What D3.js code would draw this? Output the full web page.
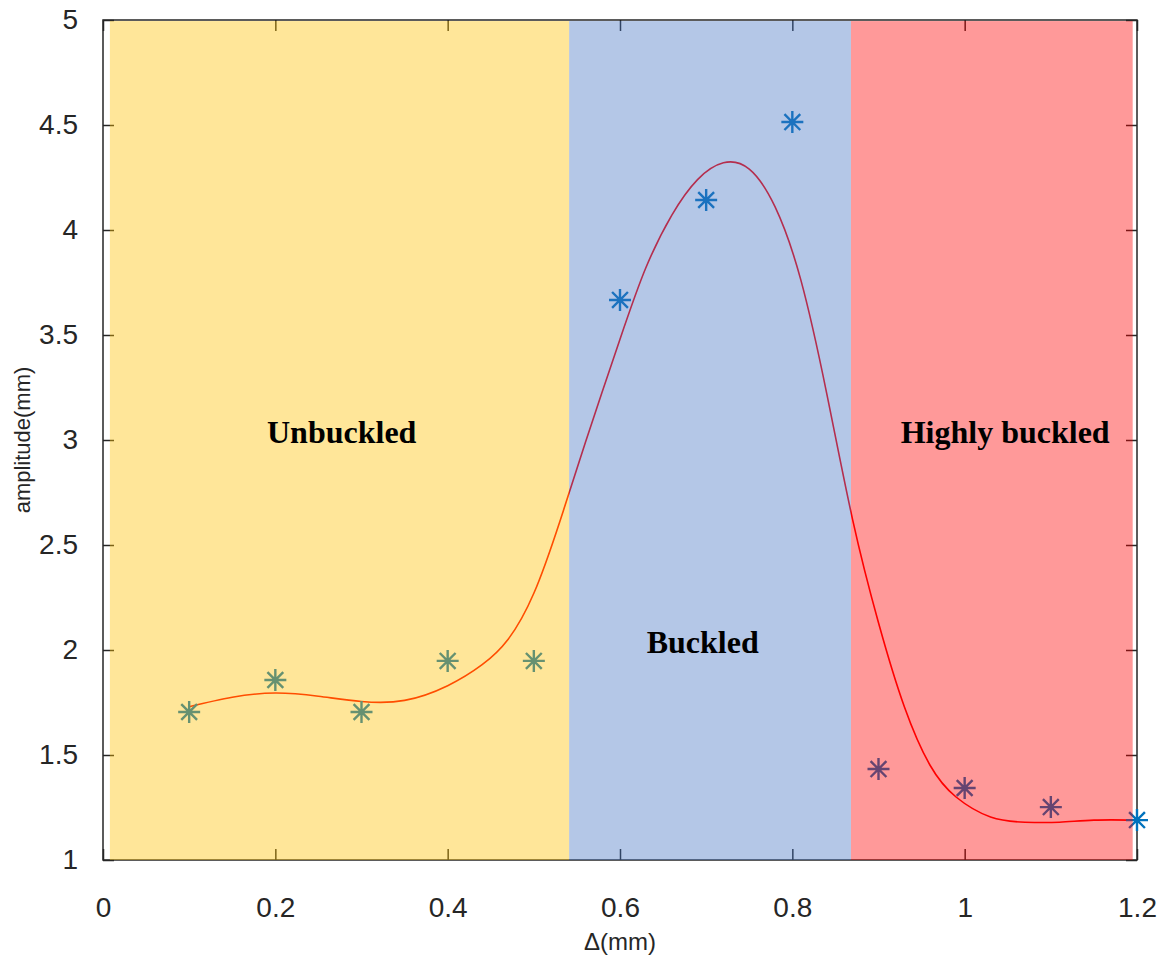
<!DOCTYPE html>
<html>
<head>
<meta charset="utf-8">
<script src="https://cdn.jsdelivr.net/npm/d3@7"></script>
<style>
  body { margin: 0; background: #fff; }
</style>
</head>
<body>
<div id="chart"></div>
<script>
// measured points (asterisks)
var xPts = [0.1, 0.2, 0.3, 0.4, 0.5, 0.6, 0.7, 0.8, 0.9, 1.0, 1.1, 1.2];
var yPts = [1.705, 1.857, 1.705, 1.948, 1.948, 3.667, 4.143, 4.514, 1.433, 1.343, 1.252, 1.19];

// fitted curve
var xFit = [0.1, 0.15, 0.2, 0.25, 0.3, 0.35, 0.4, 0.44, 0.47, 0.5, 0.53, 0.56, 0.6, 0.63, 0.66, 0.69, 0.72, 0.75, 0.78, 0.81, 0.84, 0.87, 0.9, 0.93, 0.96, 0.99, 1.03, 1.07, 1.11, 1.15, 1.2];
var yFit = [1.73, 1.775, 1.795, 1.78, 1.755, 1.76, 1.83, 1.93, 2.05, 2.27, 2.61, 2.99, 3.48, 3.82, 4.07, 4.24, 4.32, 4.29, 4.11, 3.76, 3.22, 2.62, 2.13, 1.73, 1.45, 1.30, 1.205, 1.18, 1.18, 1.19, 1.19];

// shaded regions
var regionStart = [0.008, 0.541, 0.868];
var regionEnd = [0.541, 0.868, 1.195];
var regionColor = ["#FFC000", "#4472C4", "#FF0000"];
var regionName = ["Unbuckled", "Buckled", "Highly buckled"];
var labelX = [0.277, 0.696, 1.047];
var labelY = [3.04, 2.04, 3.04];

var xTicks = [0, 0.2, 0.4, 0.6, 0.8, 1, 1.2];
var yTicks = [1, 1.5, 2, 2.5, 3, 3.5, 4, 4.5, 5];

var W = 1171, H = 955;
var margin = {top: 20, right: 34, bottom: 95, left: 103},
    width = W - margin.left - margin.right,
    height = H - margin.top - margin.bottom;

var svg = d3.select("#chart").append("svg")
    .attr("width", W).attr("height", H)
    .append("g")
    .attr("transform", "translate(" + margin.left + "," + margin.top + ")");

var x = d3.scaleLinear().domain([0, 1.2]).range([0, width]);
var y = d3.scaleLinear().domain([1, 5]).range([height, 0]);

var axisColor = "#262626";
var tickFont = "'Liberation Sans', Arial, sans-serif";

// frame box
svg.append("rect")
    .attr("x", 0).attr("y", 0)
    .attr("width", width).attr("height", height)
    .attr("fill", "none")
    .attr("stroke", axisColor)
    .attr("stroke-width", 1.5);

// axes with inward ticks
var gx = svg.append("g")
    .attr("transform", "translate(0," + height + ")")
    .call(d3.axisBottom(x).tickValues(xTicks).tickSize(-11).tickPadding(37).tickFormat(d3.format("~g")));
var gxTop = svg.append("g")
    .call(d3.axisTop(x).tickValues(xTicks).tickSize(-11).tickFormat(""));
var gy = svg.append("g")
    .call(d3.axisLeft(y).tickValues(yTicks).tickSize(-11).tickPadding(25).tickFormat(d3.format("~g")));
var gyRight = svg.append("g")
    .attr("transform", "translate(" + width + ",0)")
    .call(d3.axisRight(y).tickValues(yTicks).tickSize(-11).tickFormat(""));

[gx, gxTop, gy, gyRight].forEach(function(g) {
    g.select(".domain").remove();
    g.selectAll("line").attr("stroke", axisColor).attr("stroke-width", 1.5);
    g.selectAll("text")
        .attr("fill", axisColor)
        .style("font-family", tickFont)
        .style("font-size", "28px");
});

// fitted curve
var fitData = xFit.map(function(d, i) { return [d, yFit[i]]; });
var line = d3.line()
    .x(function(d) { return x(d[0]); })
    .y(function(d) { return y(d[1]); })
    .curve(d3.curveNatural);

svg.append("path")
    .datum(fitData)
    .attr("d", line)
    .attr("fill", "none")
    .attr("stroke", "#FF0000")
    .attr("stroke-width", 1.6);

// asterisk markers
var r = 11;
var star = "M" + (-r) + ",0L" + r + ",0M0," + (-r) + "L0," + r +
    "M" + (-r * 0.72) + "," + (-r * 0.72) + "L" + (r * 0.72) + "," + (r * 0.72) +
    "M" + (-r * 0.72) + "," + (r * 0.72) + "L" + (r * 0.72) + "," + (-r * 0.72);

svg.selectAll(".pt")
    .data(xPts)
    .enter()
    .append("path")
    .attr("class", "pt")
    .attr("transform", function(d, i) { return "translate(" + x(d) + "," + y(yPts[i]) + ")"; })
    .attr("d", star)
    .attr("fill", "none")
    .attr("stroke", "#0072BD")
    .attr("stroke-width", 2.4);

// translucent regions drawn over the data
svg.selectAll(".region")
    .data(regionStart)
    .enter()
    .append("rect")
    .attr("class", "region")
    .attr("x", function(d) { return x(d); })
    .attr("y", y(4.995))
    .attr("width", function(d, i) { return x(regionEnd[i]) - x(d); })
    .attr("height", y(1) - y(4.995))
    .attr("fill", function(d, i) { return regionColor[i]; })
    .attr("fill-opacity", 0.4);

// region labels
svg.selectAll(".rlabel")
    .data(regionName)
    .enter()
    .append("text")
    .attr("class", "rlabel")
    .attr("x", function(d, i) { return x(labelX[i]); })
    .attr("y", function(d, i) { return y(labelY[i]); })
    .attr("dy", "0.35em")
    .attr("text-anchor", "middle")
    .style("font-family", "'Liberation Serif', 'Times New Roman', serif")
    .style("font-weight", "bold")
    .style("font-size", "32px")
    .attr("fill", "#000")
    .text(function(d) { return d; });

// axis labels
svg.append("text")
    .attr("x", width / 2)
    .attr("y", height + 90)
    .attr("text-anchor", "middle")
    .style("font-family", tickFont)
    .style("font-size", "24px")
    .attr("fill", axisColor)
    .text("\u0394(mm)");

svg.append("text")
    .attr("transform", "translate(" + (-73) + "," + (height / 2) + ") rotate(-90)")
    .attr("text-anchor", "middle")
    .style("font-family", tickFont)
    .style("font-size", "22px")
    .attr("fill", axisColor)
    .text("amplitude(mm)");
</script>
</body>
</html>
